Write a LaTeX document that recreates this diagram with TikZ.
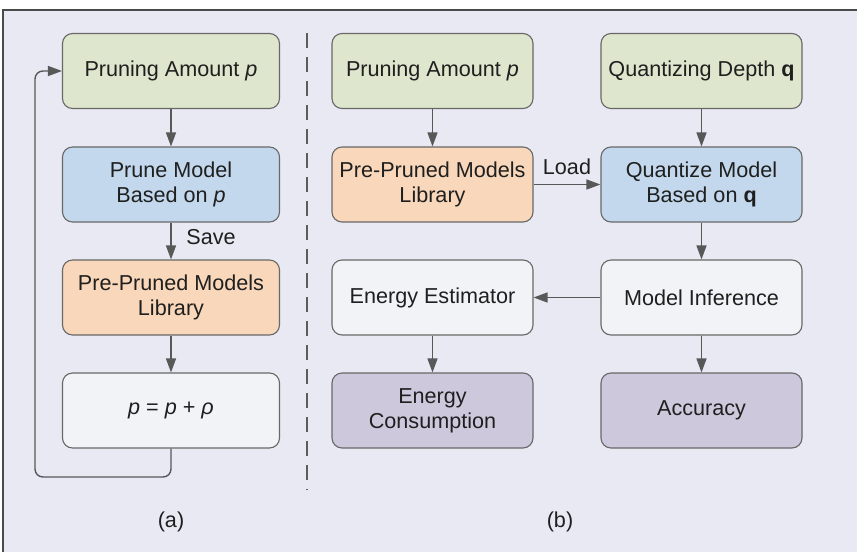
\documentclass[tikz,border=0pt]{standalone}
\usepackage{fontspec}
\setmainfont{Liberation Sans}
\usetikzlibrary{arrows.meta,positioning}
\definecolor{panelBg}{RGB}{233,233,243}
\definecolor{frameGray}{RGB}{74,74,74}
\definecolor{boxLine}{RGB}{104,104,104}
\definecolor{arrGray}{RGB}{88,88,88}
\definecolor{inGreen}{RGB}{222,230,205}
\definecolor{procBlue}{RGB}{195,216,236}
\definecolor{libOrange}{RGB}{248,215,186}
\definecolor{stepWhite}{RGB}{242,243,246}
\definecolor{outPurple}{RGB}{206,200,220}
\begin{document}
\begin{tikzpicture}[x=0.5pt, y=-0.5pt,
  box/.style={draw=boxLine, line width=0.55pt, rounded corners=5pt, align=center,
    minimum width=100.5pt, minimum height=37.5pt, inner sep=2pt,
    font=\fontsize{10.8}{12.5}\selectfont, text=black!88},
  wide/.style={minimum width=108.5pt},
  arr/.style={draw=arrGray, line width=0.7pt, -{Triangle[length=7pt,width=5pt]}},
  lbl/.style={font=\fontsize{10.8}{12.5}\selectfont, text=black!88}]
\useasboundingbox (0,0) rectangle (857,552);
% panel
\fill[panelBg] (3,10) rectangle (857,552);
\draw[frameGray, line width=0.8pt] (3,552) -- (3,10) -- (857,10);
\draw[frameGray!90, line width=0.65pt, dash pattern=on 7.5pt off 4.5pt] (307,33) -- (307,490);
% (a)
\node[box, wide, fill=inGreen] (pa1) at (171,71) {Pruning Amount \textit{p}};
\node[box, wide, fill=procBlue] (pm1) at (171,184.5) {Prune Model\\Based on \textit{p}};
\node[box, wide, fill=libOrange] (lib1) at (171,297.5) {Pre-Pruned Models\\Library};
\node[box, wide, fill=stepWhite] (upd) at (171,410.5) {\textit{p} = \textit{p} + \textit{ρ}};
\coordinate (loop) at (35,477);
\draw[arr] (pa1) -- (pm1);
\draw[arr] (pm1) -- node[lbl, right, xshift=4pt, yshift=2pt] {Save} (lib1);
\draw[arr] (lib1) -- (upd);
\draw[arr, rounded corners=4pt] (upd.south) |- (loop) |- (pa1.west);
\node[lbl] (capa) at (171,522) {(a)};
% (b)
\node[box, fill=inGreen] (pa2) at (432.5,71) {Pruning Amount \textit{p}};
\node[box, fill=inGreen] (qd) at (701.5,71) {Quantizing Depth \textbf{q}};
\node[box, fill=libOrange] (lib2) at (432.5,184.5) {Pre-Pruned Models\\Library};
\node[box, fill=procBlue] (qm) at (701.5,184.5) {Quantize Model\\Based on \textbf{q}};
\node[box, fill=stepWhite] (est) at (432.5,297.5) {Energy Estimator};
\node[box, fill=stepWhite] (inf) at (701.5,297.5) {Model Inference};
\node[box, fill=outPurple] (ec) at (432.5,410.5) {Energy\\Consumption};
\node[box, fill=outPurple] (acc) at (701.5,410.5) {Accuracy};
\draw[arr] (pa2) -- (lib2);
\draw[arr] (qd) -- (qm);
\draw[arr] (lib2) -- node[lbl, above, yshift=1pt] {Load} (qm);
\draw[arr] (qm) -- (inf);
\draw[arr] (inf) -- (est);
\draw[arr] (est) -- (ec);
\draw[arr] (inf) -- (acc);
\node[lbl] (capb) at (560,522) {(b)};
\end{tikzpicture}
\end{document}
